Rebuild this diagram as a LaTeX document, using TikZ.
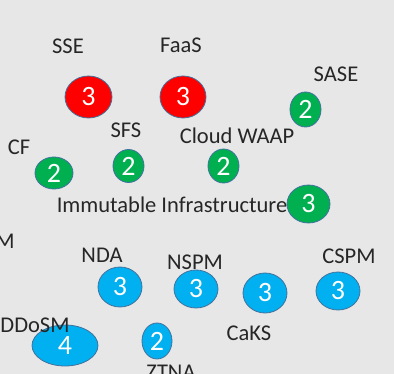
\documentclass[tikz,border=0pt]{standalone}
\usepackage{fontspec}
\setmainfont{Carlito}
\definecolor{bg}{HTML}{E7E7E7}
\definecolor{bred}{HTML}{FF0000}
\definecolor{bgreen}{HTML}{00B050}
\definecolor{bblue}{HTML}{00B0F0}
\definecolor{rim}{HTML}{41719C}
\begin{document}
\begin{tikzpicture}[x=1pt,y=-1pt,
  val/.style={text=white,font=\fontsize{28}{28}\selectfont,inner sep=0pt},
  lbl/.style={font=\fontsize{22.5}{22.5}\selectfont,text=black!85,inner sep=0pt}]
\fill[bg] (0,0) rectangle (394,374);
\useasboundingbox (0,0) rectangle (394,374);
% a bubble: name, centre x, centre y, x radius, fill, y radius, value
\newcommand{\bub}[7]{%
  \filldraw[fill=#5,draw=rim,line width=0.8pt] (#2,#3) ellipse [x radius=#4,y radius=#6];
  \node[val] (#1) at (#2,#3) {#7};}
\bub{sse}{88.5}{97}{23.5}{bred}{21}{3}
\bub{faas}{183}{97}{23}{bred}{21}{3}
\bub{sase}{305.5}{109.5}{15.5}{bgreen}{17.5}{2}
\bub{cf}{54}{173}{19}{bgreen}{16}{2}
\bub{sfs}{128.5}{166}{15.5}{bgreen}{16.5}{2}
\bub{waap}{223.5}{166}{15.5}{bgreen}{17}{2}
\bub{immut}{308.5}{204}{21.5}{bgreen}{19}{3}
\bub{nda}{120}{287}{22}{bblue}{20}{3}
\bub{nspm}{196}{289}{22}{bblue}{19}{3}
\bub{caks}{265}{293}{22}{bblue}{20}{3}
\bub{cspm}{338}{291}{22}{bblue}{19}{3}
\bub{ddosm}{65}{345.5}{33}{bblue}{20.5}{4}
\bub{ztna}{157}{341}{15}{bblue}{18}{2}
% labels
\node[lbl] (tsse) at (68,46) {SSE};
\node[lbl] (tfaas) at (181,45) {FaaS};
\node[lbl] (tsase) at (336,74) {SASE};
\node[lbl] (tcf) at (19,147) {CF};
\node[lbl] (tsfs) at (126,130) {SFS};
\node[lbl] (twaap) at (237,136) {Cloud WAAP};
\node[lbl] (timmut) at (172,205) {Immutable Infrastructure};
\node[lbl] (tm) at (5,241) {M};
\node[lbl] (tnda) at (102,255) {NDA};
\node[lbl] (tnspm) at (195,262) {NSPM};
\node[lbl] (tcaks) at (249,333) {CaKS};
\node[lbl] (tcspm) at (349,256) {CSPM};
\node[lbl] (tddosm) at (35,325) {DDoSM};
\node[lbl] (tztna) at (171,372) {ZTNA};
\end{tikzpicture}
\end{document}
